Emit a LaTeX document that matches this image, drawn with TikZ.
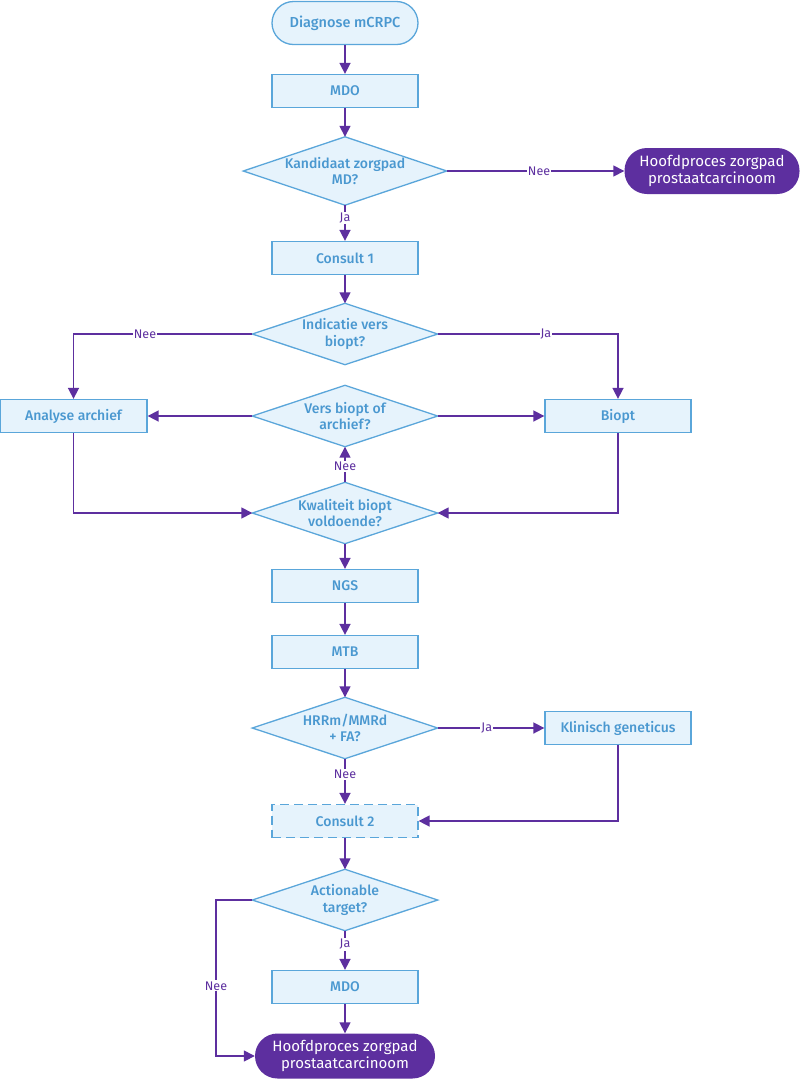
\documentclass[tikz,border=0pt]{standalone}
\usepackage{fontspec}
\setmainfont{Fira Sans}[BoldFont={Fira Sans Medium}]
\usetikzlibrary{arrows.meta,positioning,calc}
\definecolor{boxfill}{HTML}{E6F3FC}
\definecolor{boxline}{HTML}{5AA6DA}
\definecolor{boxtext}{HTML}{4A98D0}
\definecolor{purp}{HTML}{5D2F9F}
\pgfdeclarelayer{background}
\pgfsetlayers{background,main}
\tikzset{
  x=1pt,y=-1pt,
  every node/.style={font=\fontsize{14}{16}\selectfont},
  procbox/.style={draw=boxline,fill=boxfill,text=boxtext,line width=1.3pt,minimum width=146pt,minimum height=33pt,inner sep=2pt,align=center,font=\fontsize{14}{16}\selectfont\bfseries},
  termbox/.style={draw=boxline,fill=boxfill,text=boxtext,line width=1.3pt,minimum width=146pt,minimum height=43pt,rounded corners=21.5pt,align=center,font=\fontsize{14.5}{16}\selectfont\bfseries},
  endterm/.style={fill=purp,text=white,minimum width=180pt,minimum height=45pt,rounded corners=22.5pt,align=center,font=\fontsize{15}{16.5}\selectfont},
  diabox/.style={text=boxtext,minimum width=185pt,minimum height=61pt,inner sep=0pt,align=center,font=\fontsize{14}{16.5}\selectfont\bfseries},
  diashape/.style={draw=boxline,fill=boxfill,line width=1.3pt,line join=miter},
  conn/.style={draw=purp,line width=1.6pt,-{Triangle[length=11pt,width=11pt]}},
  lbl/.style={fill=white,text=purp,inner sep=1pt,font=\fontsize{12.5}{13}\selectfont},
}
\newcommand{\diamondof}[1]{\path[diashape] (#1.west) -- (#1.north) -- (#1.east) -- (#1.south) -- cycle;}
\begin{document}
\begin{tikzpicture}
\useasboundingbox (0,0) rectangle (800,1080);
% nodes
\node[termbox] (start) at (345,23) {Diagnose mCRPC};
\node[procbox] (mdo1) at (345,91) {MDO};
\node[diabox,minimum width=203pt,minimum height=68pt] (d1) at (345,171) {Kandidaat zorgpad\\MD?};
\node[endterm,minimum width=175pt,minimum height=46pt] (hp1) at (712,171) {Hoofdproces zorgpad\\prostaatcarcinoom};
\node[procbox] (c1) at (345,258) {Consult 1};
\node[diabox] (d2) at (345,334) {Indicatie vers\\biopt?};
\node[procbox,minimum width=147pt] (arch) at (73.5,416) {Analyse archief};
\node[diabox] (d3) at (345,416) {Vers biopt of\\archief?};
\node[procbox] (biopt) at (618,416) {Biopt};
\node[diabox] (d4) at (345,513) {Kwaliteit biopt\\voldoende?};
\node[procbox] (ngs) at (345,586) {NGS};
\node[procbox] (mtb) at (345,652) {MTB};
\node[diabox] (d5) at (345,728) {HRRm/MMRd\\+ FA?};
\node[procbox] (kg) at (618,728) {Klinisch geneticus};
\node[procbox,dashed,dash pattern=on 9pt off 5pt] (c2) at (345,821) {Consult 2};
\node[diabox] (d6) at (345,900) {Actionable\\target?};
\node[procbox] (mdo2) at (345,987) {MDO};
\node[endterm] (hp2) at (345,1056) {Hoofdproces zorgpad\\prostaatcarcinoom};
\begin{pgfonlayer}{background}
\fill[white] (0,0) rectangle (800,1080);
\diamondof{d1}\diamondof{d2}\diamondof{d3}\diamondof{d4}\diamondof{d5}\diamondof{d6}
\end{pgfonlayer}
% connectors
\draw[conn] (start) -- (mdo1);
\draw[conn] (mdo1) -- (d1.north);
\draw[conn] (d1.east) -- node[lbl,pos=0.52]{Nee} (hp1.west);
\draw[conn] (d1.south) -- node[lbl,pos=0.35]{Ja} (c1);
\draw[conn] (c1) -- (d2.north);
\draw[conn] (d2.west) -- node[lbl,pos=0.6]{Nee} (arch.north |- d2.west) -- (arch.north);
\draw[conn] (d2.east) -- node[lbl,pos=0.6]{Ja} (biopt.north |- d2.east) -- (biopt.north);
\draw[conn] (d3.west) -- (arch.east);
\draw[conn] (d3.east) -- (biopt.west);
\draw[conn] (d4.north) -- node[lbl,pos=0.45]{Nee} (d3.south);
\draw[conn] (arch.south) -- (arch.south |- d4.west) -- (d4.west);
\draw[conn] (biopt.south) -- (biopt.south |- d4.east) -- (d4.east);
\draw[conn] (d4.south) -- (ngs);
\draw[conn] (ngs) -- (mtb);
\draw[conn] (mtb) -- (d5.north);
\draw[conn] (d5.east) -- node[lbl,pos=0.46]{Ja} (kg.west);
\draw[conn] (d5.south) -- node[lbl,pos=0.35]{Nee} (c2);
\draw[conn] (kg.south) -- (kg.south |- c2.east) -- (c2.east);
\draw[conn] (c2) -- (d6.north);
\draw[conn] (d6.south) -- node[lbl,pos=0.35]{Ja} (mdo2);
\draw[conn] (mdo2) -- (hp2);
\coordinate (nk) at (216,900);
\draw[conn] (d6.west) -- (nk) -- node[lbl,pos=0.55]{Nee} (nk |- hp2.west) -- (hp2.west);
\end{tikzpicture}
\end{document}
